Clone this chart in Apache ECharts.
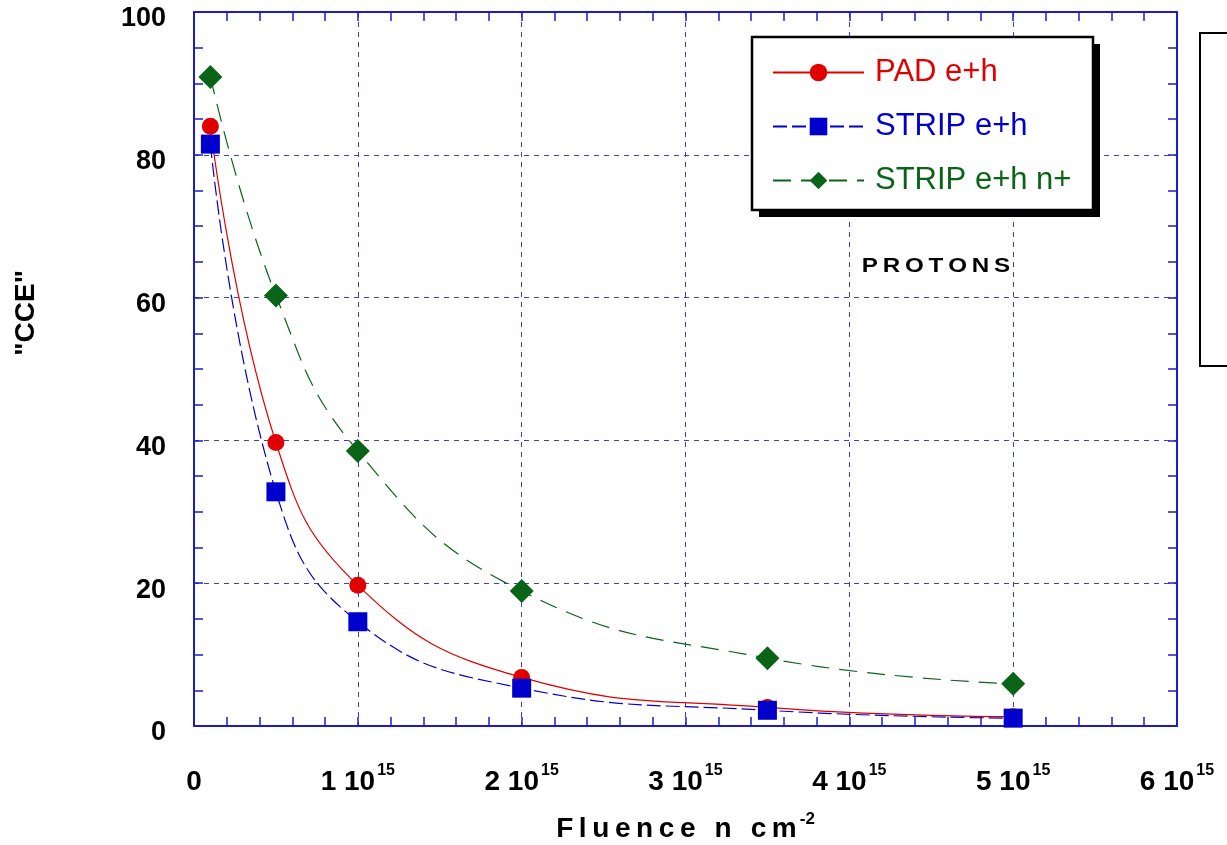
<!DOCTYPE html>
<html>
<head>
<meta charset="utf-8">
<script src="https://cdn.jsdelivr.net/npm/echarts@6/dist/echarts.min.js"></script>
<style>
  html, body { margin: 0; padding: 0; background: #fff; }
  #main { width: 1227px; height: 845px; }
</style>
</head>
<body>
<div id="main"></div>
<script>
// fluence in units of 1e15 n/cm2
const fluence = [0.1, 0.5, 1.0, 2.0, 3.5, 5.0];
const padEH = [84.0, 39.7, 19.7, 6.8, 2.6, 1.3];
const stripEH = [81.5, 32.8, 14.6, 5.3, 2.2, 1.1];
const stripEHn = [90.9, 60.3, 38.5, 18.9, 9.5, 5.9];
const seriesNames = ['PAD e+h', 'STRIP e+h', 'STRIP e+h n+'];
const seriesColors = ['#e00000', '#0000cc', '#0a6418'];
const yTicks = [0, 20, 40, 60, 80, 100];

const axisBlue = '#1c1cc8';
const gridBlue = '#3c3cd2';
const font = '"Liberation Sans", Arial, sans-serif';
const thin = '\u2009';

function pairs(ys) {
  return fluence.map((x, i) => [x, ys[i]]);
}
// wide letter spacing like the original plot
function spaced(s) {
  return s.split('').join(thin);
}

let myChart = echarts.init(document.getElementById('main'));

const xBase = {
  type: 'value',
  min: 0,
  max: 6,
  interval: 1,
  axisLine: { show: true, onZero: false, lineStyle: { color: axisBlue, width: 2 } },
  axisTick: { show: true, inside: true, length: 9, lineStyle: { color: axisBlue, width: 1.5 } },
  minorTick: { show: true, splitNumber: 5, length: 9, lineStyle: { color: axisBlue, width: 1.5 } }
};
const yBase = {
  type: 'value',
  min: 0,
  max: 100,
  interval: 20,
  axisLine: { show: true, onZero: false, lineStyle: { color: axisBlue, width: 2 } },
  axisTick: { show: true, inside: true, length: 9, lineStyle: { color: axisBlue, width: 1.5 } },
  minorTick: { show: true, splitNumber: 4, length: 9, lineStyle: { color: axisBlue, width: 1.5 } }
};

myChart.setOption({
  backgroundColor: '#fff',
  animation: false,
  textStyle: { fontFamily: font },
  grid: { left: 194, right: 50, top: 12, bottom: 119, containLabel: false, outerBoundsMode: 'none' },
  legend: {
    orient: 'vertical',
    left: 752,
    top: 37,
    padding: [20, 0, 0, 20],
    itemGap: 23,
    itemWidth: 91,
    itemHeight: 22,
    backgroundColor: 'transparent',
    borderWidth: 0,
    z: 6,
    textStyle: { fontSize: 31, fontFamily: font, padding: [0, 0, 0, 6] },
    data: seriesNames.map((n, i) => ({ name: n, textStyle: { color: seriesColors[i] } }))
  },
  xAxis: [
    Object.assign({}, xBase, {
      position: 'bottom',
      name: '{a|' + spaced('Fluence') + thin + ' ' + thin + 'n' + thin + ' ' + thin + spaced('cm') + '}{s|-2}',
      nameLocation: 'middle',
      nameGap: 85,
      nameTextStyle: {
        rich: {
          a: { fontSize: 28, fontWeight: 'bold', fontFamily: font, color: '#000' },
          s: { fontSize: 17, fontWeight: 'bold', fontFamily: font, color: '#000', padding: [0, 0, 20, 3] }
        }
      },
      splitLine: { show: true, lineStyle: { color: gridBlue, type: [5, 5], width: 1 } },
      axisLabel: {
        margin: 37,
        formatter: function (v) {
          if (v === 0) return '{b|0}{z| }';
          return '{b|' + v + ' 10}{s|15}';
        },
        rich: {
          b: { fontSize: 28, fontWeight: 'bold', fontFamily: font, color: '#000' },
          s: { fontSize: 16, fontWeight: 'bold', fontFamily: font, color: '#000', padding: [0, 0, 22, 2] },
          z: { fontSize: 16, width: 0, padding: [0, 0, 22, 0] }
        }
      }
    }),
    Object.assign({}, xBase, {
      position: 'top',
      axisLabel: { show: false },
      splitLine: { show: false }
    })
  ],
  yAxis: [
    Object.assign({}, yBase, {
      position: 'left',
      splitLine: { show: true, lineStyle: { color: gridBlue, type: [5, 5], width: 1 } },
      axisLabel: {
        margin: 28,
        customValues: yTicks,
        formatter: function (v) { return '{v|' + v + '}'; },
        rich: {
          v: { fontSize: 27, fontWeight: 'bold', fontFamily: font, color: '#000', padding: [14, 0, 0, 0] }
        }
      }
    }),
    Object.assign({}, yBase, {
      position: 'right',
      axisLabel: { show: false },
      splitLine: { show: false }
    })
  ],
  series: [
    {
      name: seriesNames[0],
      type: 'line',
      data: pairs(padEH),
      smooth: 0.45,
      symbol: 'circle',
      symbolSize: 17,
      z: 4,
      itemStyle: { color: seriesColors[0] },
      lineStyle: { color: seriesColors[0], width: 1.2, type: 'solid' }
    },
    {
      name: seriesNames[1],
      type: 'line',
      data: pairs(stripEH),
      smooth: 0.45,
      symbol: 'rect',
      symbolSize: 19,
      z: 5,
      itemStyle: { color: seriesColors[1] },
      lineStyle: { color: seriesColors[1], width: 1.2, type: [14, 5] }
    },
    {
      name: seriesNames[2],
      type: 'line',
      data: pairs(stripEHn),
      smooth: 0.45,
      symbol: 'diamond',
      symbolSize: 24,
      z: 3,
      itemStyle: { color: seriesColors[2] },
      lineStyle: { color: seriesColors[2], width: 1.2, type: [18, 10] }
    }
  ],
  graphic: [
    {
      type: 'text',
      left: 12,
      top: 270,
      rotation: Math.PI / 2,
      style: {
        text: '"CCE"',
        font: 'bold 28px ' + font,
        fill: '#000'
      }
    },
    {
      type: 'text',
      x: 936,
      y: 266,
      scaleX: 1.15,
      style: {
        text: spaced('PROTONS'),
        font: 'bold 21px ' + font,
        fill: '#000',
        align: 'center',
        verticalAlign: 'middle'
      }
    },
    // legend frame with its hard drop shadow
    {
      type: 'rect',
      z: 5,
      shape: { x: 759, y: 44, width: 341, height: 173 },
      style: { fill: '#000' }
    },
    {
      type: 'rect',
      z: 5,
      shape: { x: 752, y: 37, width: 341, height: 173 },
      style: { fill: '#fff', stroke: '#000', lineWidth: 2.5 }
    },
    {
      type: 'rect',
      shape: { x: 1200, y: 33, width: 60, height: 333 },
      style: { fill: '#fff', stroke: '#000', lineWidth: 2 }
    }
  ]
});
</script>
</body>
</html>
